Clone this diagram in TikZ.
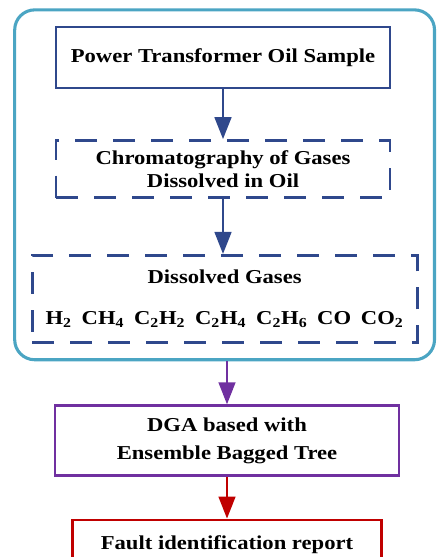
\documentclass[tikz,border=0pt]{standalone}
\usepackage{fontspec}
\setmainfont[FakeStretch=1.15]{Liberation Serif}
\usepackage{tikz}
\usetikzlibrary{arrows.meta, fit, positioning}

\begin{document}
\begin{tikzpicture}[node distance=1.25cm]
  \definecolor{stepblue}{RGB}{47,72,140}
  \definecolor{framecol}{RGB}{75,165,195}
  \definecolor{dgacol}{RGB}{112,48,160}
  \definecolor{reportcol}{RGB}{192,0,0}

  \tikzset{
    stage/.style={
      rectangle, align=center,
      minimum width=8.35cm, minimum height=1.525cm,
      font=\fontsize{14}{16}\selectfont\bfseries,
      draw=#1, line width=1.6pt, inner sep=2pt
    },
    stage/.default=stepblue,
    dstage/.style={
      stage, line width=2pt,
      dash pattern=on 0.55cm off 0.4cm
    },
    arr/.style={
      -{Triangle[length=0.55cm, width=0.42cm]},
      line width=1.6pt, color=#1
    },
    arr/.default=stepblue
  }

  \path[use as bounding box, clip] (0,0) rectangle (10.9,-13.925);

  \node[stage] (sample) at (5.575,-1.4375) {Power Transformer Oil Sample};
  \node[dstage, below=of sample, minimum height=1.425cm] (chrom)
    {Chromatography of Gases\\Dissolved in Oil};
  \node[dstage, below=1.375cm of chrom, xshift=0.04cm,
    minimum width=9.625cm, minimum height=2.175cm] (gases)
    {Dissolved Gases\\[13pt]
     H\textsubscript{2}\hspace{0.5em}CH\textsubscript{4}\hspace{0.5em}C\textsubscript{2}H\textsubscript{2}\hspace{0.5em}C\textsubscript{2}H\textsubscript{4}\hspace{0.5em}C\textsubscript{2}H\textsubscript{6}\hspace{0.5em}CO\hspace{0.5em}CO\textsubscript{2}};

  \node[draw=framecol, line width=2.2pt, rounded corners=0.5cm,
    fit=(sample)(chrom)(gases), inner sep=0.4cm] (frame) {};

  \node[stage=dgacol, below=1.075cm of frame, xshift=0.06cm,
    minimum width=8.6cm, minimum height=1.75cm] (dga)
    {DGA based with\\[4pt]Ensemble Bagged Tree};
  \node[stage=reportcol, below=1.05cm of dga,
    minimum width=7.725cm, minimum height=1.25cm] (report)
    {Fault identification report};

  \draw[arr] (sample.south) -- (chrom.north);
  \draw[arr] (chrom.south) -- (chrom.south |- gases.north);
  \draw[arr=dgacol] (frame.south -| dga.north) -- (dga.north);
  \draw[arr=reportcol] (dga.south) -- (report.north);
\end{tikzpicture}
\end{document}
